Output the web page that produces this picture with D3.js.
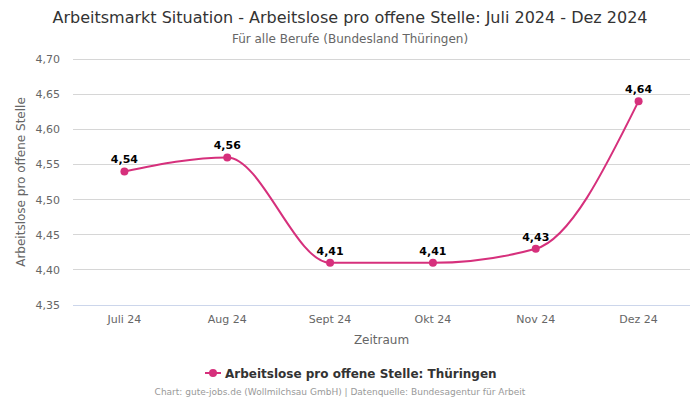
<!DOCTYPE html>
<html>
<head>
<meta charset="utf-8">
<script src="https://cdn.jsdelivr.net/npm/d3@7"></script>
<style>
  body { margin: 0; background: #fff; }
  svg { font-family: 'DejaVu Sans', sans-serif; display: block; }
</style>
</head>
<body>
<div id="chart"></div>
<script>
const months = ['Juli 24', 'Aug 24', 'Sept 24', 'Okt 24', 'Nov 24', 'Dez 24'];
const values = [4.54, 4.56, 4.41, 4.41, 4.43, 4.64];
const yTicks = [4.35, 4.40, 4.45, 4.50, 4.55, 4.60, 4.65, 4.70];

const svgWidth = 700,
      svgHeight = 400;

const margin = { top: 59, right: 10, bottom: 95, left: 73 };
const width = svgWidth - margin.left - margin.right,
      height = svgHeight - margin.top - margin.bottom;

const lineColor = '#d6307c';
const fmt = d => d3.format('.2f')(d).replace('.', ',');

const svg = d3.select('#chart')
              .append('svg')
              .attr('width', svgWidth)
              .attr('height', svgHeight);

// titles
svg.append('text')
   .attr('x', svgWidth / 2).attr('y', 23)
   .attr('text-anchor', 'middle')
   .attr('fill', '#333').style('font-size', '16px')
   .text('Arbeitsmarkt Situation - Arbeitslose pro offene Stelle: Juli 2024 - Dez 2024');

svg.append('text')
   .attr('x', svgWidth / 2).attr('y', 43)
   .attr('text-anchor', 'middle')
   .attr('fill', '#666').style('font-size', '12px')
   .text('Für alle Berufe (Bundesland Thüringen)');

const g = svg.append('g')
             .attr('transform', `translate(${margin.left},${margin.top})`);

// scales
const x = d3.scaleBand()
            .domain(months)
            .range([0, width]);
const y = d3.scaleLinear()
            .domain([4.35, 4.70])
            .range([height, 0]);

// grid
g.append('g')
  .selectAll('line')
  .data(yTicks)
  .enter()
  .append('line')
  .attr('x1', 0).attr('x2', width)
  .attr('y1', d => y(d)).attr('y2', d => y(d))
  .attr('stroke', d => d === 4.35 ? '#ccd6eb' : '#d6d6d6')
  .attr('stroke-width', 1)
  .attr('shape-rendering', 'crispEdges');

// y axis labels
const yAxis = d3.axisLeft(y)
                .tickValues(yTicks)
                .tickFormat(fmt)
                .tickSize(0)
                .tickPadding(13);
g.append('g')
  .call(yAxis)
  .call(a => a.select('.domain').remove())
  .call(a => a.selectAll('text').attr('fill', '#666').style('font-size', '11px').style('font-family', 'DejaVu Sans'));

// x axis labels
const xAxis = d3.axisBottom(x)
                .tickSize(0)
                .tickPadding(10);
g.append('g')
  .attr('transform', `translate(0,${height})`)
  .call(xAxis)
  .call(a => a.select('.domain').remove())
  .call(a => a.selectAll('text').attr('fill', '#666').style('font-size', '11px').style('font-family', 'DejaVu Sans'));

// axis titles
svg.append('text')
   .attr('transform', `translate(25,${margin.top + height / 2}) rotate(-90)`)
   .attr('text-anchor', 'middle')
   .attr('fill', '#666').style('font-size', '12px')
   .text('Arbeitslose pro offene Stelle');

svg.append('text')
   .attr('x', margin.left + width / 2).attr('y', 344)
   .attr('text-anchor', 'middle')
   .attr('fill', '#666').style('font-size', '12px')
   .text('Zeitraum');

// line
const cx = d => x(d) + x.bandwidth() / 2;
const line = d3.line()
               .x((d, i) => cx(months[i]))
               .y(d => y(d))
               .curve(d3.curveMonotoneX);

g.append('path')
  .datum(values)
  .attr('fill', 'none')
  .attr('stroke', lineColor)
  .attr('stroke-width', 2)
  .attr('d', line);

g.append('g')
  .selectAll('circle')
  .data(values)
  .enter()
  .append('circle')
  .attr('cx', (d, i) => cx(months[i]))
  .attr('cy', d => y(d))
  .attr('r', 4)
  .attr('fill', lineColor);

g.append('g')
  .selectAll('text')
  .data(values)
  .enter()
  .append('text')
  .attr('x', (d, i) => cx(months[i]))
  .attr('y', d => y(d) - 8)
  .attr('text-anchor', 'middle')
  .attr('fill', '#000')
  .style('font-size', '11px')
  .style('font-weight', 'bold')
  .style('paint-order', 'stroke')
  .style('stroke', '#fff')
  .style('stroke-width', '2px')
  .text(fmt);

// legend
const legend = svg.append('g')
                  .attr('transform', 'translate(205,373)');
legend.append('line')
      .attr('x1', 0).attr('x2', 16).attr('y1', 0).attr('y2', 0)
      .attr('stroke', lineColor).attr('stroke-width', 2);
legend.append('circle')
      .attr('cx', 8).attr('cy', 0).attr('r', 4)
      .attr('fill', lineColor);
legend.append('text')
      .attr('x', 20).attr('y', 4.5)
      .attr('fill', '#333')
      .style('font-size', '12px').style('font-weight', 'bold')
      .text('Arbeitslose pro offene Stelle: Thüringen');

// footer
svg.append('text')
   .attr('x', 340).attr('y', 395)
   .attr('text-anchor', 'middle')
   .attr('fill', '#999').style('font-size', '9px')
   .text('Chart: gute-jobs.de (Wollmilchsau GmbH) | Datenquelle: Bundesagentur für Arbeit');
</script>
</body>
</html>
